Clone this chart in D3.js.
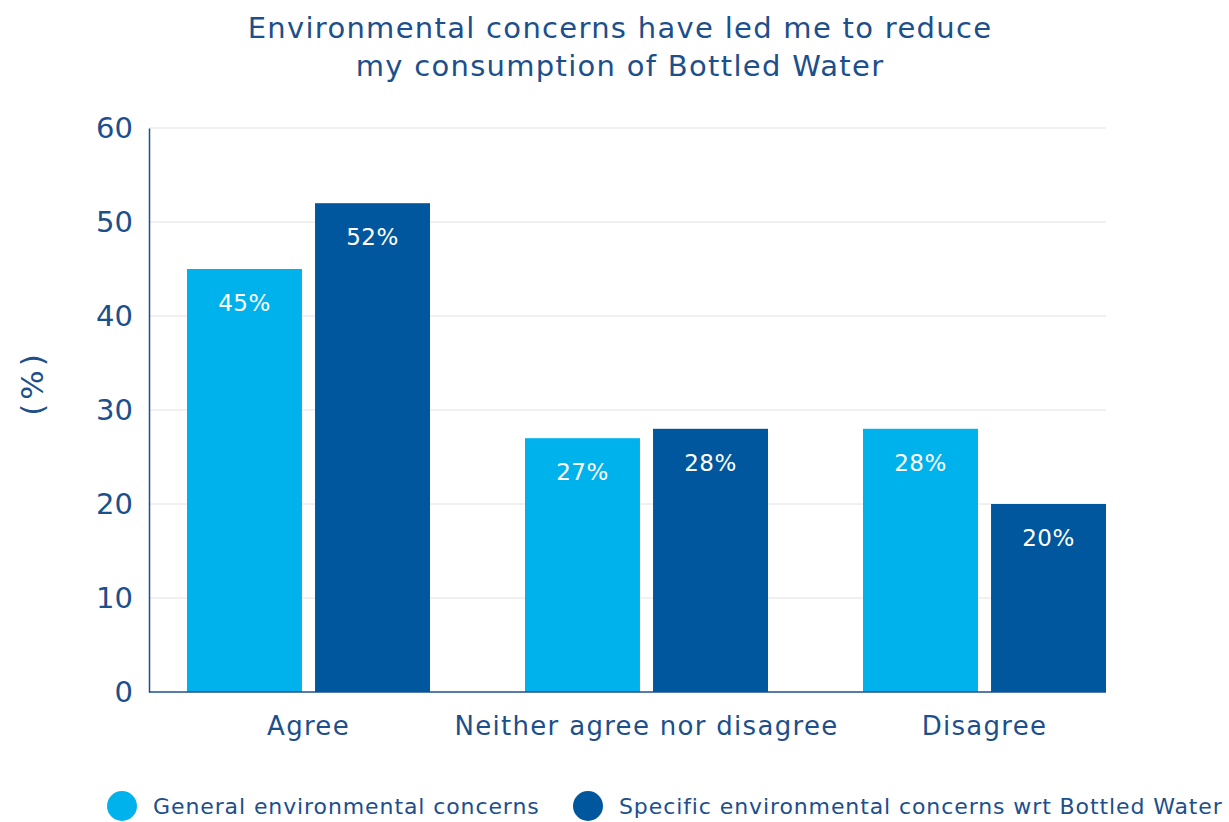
<!DOCTYPE html>
<html><head><meta charset="utf-8">
<script src="https://cdn.jsdelivr.net/npm/d3@7"></script>
<style>body{margin:0;background:#fff;} text{font-family:"DejaVu Sans",sans-serif;}</style>
</head><body>
<svg id="chart" width="1229" height="822"></svg>
<script>
const categories = ["Agree", "Neither agree nor disagree", "Disagree"];
const seriesNames = ["General environmental concerns", "Specific environmental concerns wrt Bottled Water"];
const generalValues = [45, 27, 28];
const specificValues = [52, 28, 20];
const yTicks = [0, 10, 20, 30, 40, 50, 60];
const titleLines = ["Environmental concerns have led me to reduce", "my consumption of Bottled Water"];
const colors = ["#00b2ec", "#00579e"];
const textColor = "#1c4f8b";

const svg = d3.select("#chart");
const plotLeft = 149, plotRight = 1106, plotTop = 128, plotBottom = 692;

const y = d3.scaleLinear().domain([0, 60]).range([plotBottom, plotTop]);
const x0 = d3.scaleBand().domain(categories).range([139.5, 1153.5]).padding(0);
const x1 = d3.scaleBand().domain([0, 1]).range([47.5, 290.5]).paddingInner(0.102).paddingOuter(0);

// title
svg.append("g").selectAll("text").data(titleLines).join("text")
  .attr("x", 620).attr("y", (d, i) => 38 + i * 38)
  .attr("text-anchor", "middle").attr("font-size", 29).attr("letter-spacing", 1.3)
  .attr("fill", textColor)
  .text(d => d);

// gridlines
svg.append("g").selectAll("line").data(yTicks.filter(t => t > 0)).join("line")
  .attr("x1", plotLeft).attr("x2", plotRight)
  .attr("y1", d => y(d)).attr("y2", d => y(d))
  .attr("stroke", "#e2e2e2").attr("stroke-width", 1);

// y axis
const yAxis = svg.append("g").attr("transform", `translate(${plotLeft},0)`)
  .call(d3.axisLeft(y).tickValues(yTicks).tickSize(0).tickPadding(16));
yAxis.select(".domain").attr("stroke", textColor).attr("stroke-width", 1.5);
yAxis.selectAll("text").attr("font-size", 29).attr("fill", textColor)
  .attr("font-family", "DejaVu Sans, sans-serif");

svg.append("text").attr("transform", "translate(43,383) rotate(-90)")
  .attr("text-anchor", "middle").attr("font-size", 31).attr("letter-spacing", 4)
  .attr("fill", textColor).text("(%)");

// bars
const rows = categories.map((c, i) => ({cat: c, vals: [generalValues[i], specificValues[i]]}));
const groups = svg.append("g").selectAll("g").data(rows).join("g")
  .attr("transform", d => `translate(${x0(d.cat)},0)`);
groups.selectAll("rect").data(d => d.vals.map((v, k) => ({v, k}))).join("rect")
  .attr("x", d => x1(d.k)).attr("width", x1.bandwidth())
  .attr("y", d => y(d.v)).attr("height", d => y(0) - y(d.v))
  .attr("fill", d => colors[d.k]);
groups.selectAll("text.val").data(d => d.vals.map((v, k) => ({v, k}))).join("text")
  .attr("class", "val")
  .attr("x", d => x1(d.k) + x1.bandwidth() / 2).attr("y", d => y(d.v) + 42)
  .attr("text-anchor", "middle").attr("font-size", 23).attr("letter-spacing", 0.5)
  .attr("fill", "#fff")
  .text(d => d.v + "%");

// x axis line
svg.append("line").attr("x1", plotLeft).attr("x2", plotRight)
  .attr("y1", plotBottom).attr("y2", plotBottom)
  .attr("stroke", textColor).attr("stroke-width", 1.5);

// category labels
svg.append("g").selectAll("text").data(categories).join("text")
  .attr("x", d => x0(d) + x0.bandwidth() / 2).attr("y", 735)
  .attr("text-anchor", "middle").attr("font-size", 26).attr("letter-spacing", 1.3)
  .attr("fill", textColor)
  .text(d => d);

// legend
const legendX = [122, 588];
const leg = svg.append("g").selectAll("g").data(seriesNames).join("g")
  .attr("transform", (d, i) => `translate(${legendX[i]},806)`);
leg.append("circle").attr("r", 15).attr("fill", (d, i) => colors[i]);
leg.append("text").attr("x", 31).attr("y", 8).attr("font-size", 22).attr("letter-spacing", 0.9)
  .attr("fill", textColor).text(d => d);
</script>
</body></html>
